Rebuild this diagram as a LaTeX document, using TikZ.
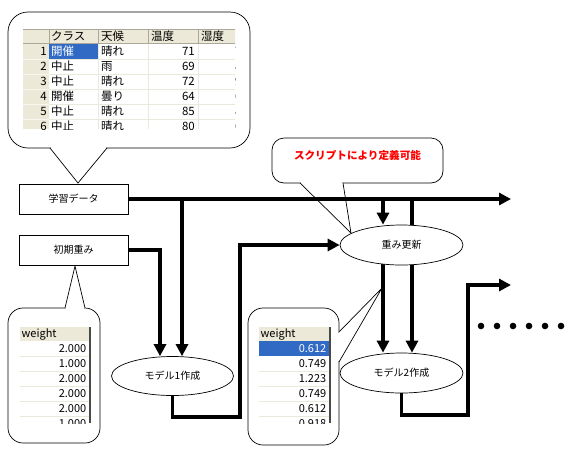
\documentclass[tikz,border=0pt]{standalone}
\usepackage{fontspec}
\setmainfont{Noto Sans CJK JP}
\usetikzlibrary{arrows.meta,shapes.geometric}
\pgfdeclarelayer{bg}
\pgfdeclarelayer{back}
\pgfsetlayers{back,bg,main}
\definecolor{hdr}{HTML}{ECE9D8}
\definecolor{hdrline}{HTML}{ACA899}
\definecolor{gridc}{HTML}{EBE9DC}
\definecolor{sel}{HTML}{316AC5}
\definecolor{dkb}{HTML}{4A4A4A}
\definecolor{notered}{HTML}{FF0000}
\begin{document}
\begin{tikzpicture}[x=1pt,y=-1pt,
  every node/.style={font=\fontsize{10}{12}\selectfont},
  flowbox/.style={draw, line width=0.9pt, fill=white, minimum width=109pt, minimum height=30pt, inner sep=0pt},
  oval/.style={draw, ellipse, line width=0.7pt, fill=white, minimum width=122pt, minimum height=39pt, inner sep=0pt},
  flow/.style={line width=3.6pt},
  tipped/.style={flow, -{Triangle[length=12pt,width=12pt]}},
  cbody/.style={draw, line width=0.7pt, fill=white},
  cline/.style={line width=0.7pt},
  cell/.style={font=\fontsize{11.5}{12}\selectfont, inner sep=0pt},
  wcell/.style={font=\fontsize{11}{12}\selectfont, inner sep=0pt}
]
\useasboundingbox (0,0) rectangle (578,456);
\begin{pgfonlayer}{back}
\fill[white] (0,0) rectangle (578,456);
\end{pgfonlayer}

% ---------- nodes ----------
\node[flowbox] (data) at (73.5,199) {学習データ};
\node[flowbox] (init) at (73.5,250) {初期重み};
\node[oval] (m1) at (172.5,376) {モデル1作成};
\node[oval, minimum width=123pt, minimum height=40pt] (upd) at (401.5,245) {重み更新};
\node[oval, minimum width=123pt, minimum height=40pt] (m2) at (401.5,373) {モデル2作成};
\node[font=\bfseries\fontsize{10.6}{12}\selectfont, text=notered] (note) at (357.5,155) {スクリプトにより定義可能};

\coordinate (endA) at (511,199);
\coordinate (j1) at (182,199);
\coordinate (j2) at (383,199);
\coordinate (j3) at (412,199);
\coordinate (c1) at (240,417);
\coordinate (c2) at (468,415);
\coordinate (endB) at (511,285);

% ---------- background: callouts and hidden line ----------
\begin{pgfonlayer}{bg}
% top callout
\draw[cbody, rounded corners=20pt] (8,12) rectangle (250,148);
\fill[white] (50,148) -- (78,183) -- (107,148) -- cycle;
\fill[white] (51,146.5) rectangle (106,149.5);
\draw[cline] (50,148) -- (78,183) -- (107,148);
% red note callout
\draw[cbody, rounded corners=12pt] (272,138) rectangle (443,183);
\fill[white] (300,183) -- (351,233) -- (343,183) -- cycle;
\fill[white] (301,181.5) rectangle (342,184.5);
\draw[cline] (300,183) -- (351,233) -- (343,183);
% left bottom callout
\draw[cbody, rounded corners=15pt] (8,308) rectangle (100,443);
\fill[white] (65,308) -- (75,266) -- (85,308) -- cycle;
\fill[white] (66,306.5) rectangle (84,309.5);
\draw[cline] (65,308) -- (75,266) -- (85,308);
% right bottom callout
\draw[cbody, rounded corners=15pt] (248,308) rectangle (339,445);
\fill[white] (339,332) -- (382,288) -- (339,362) -- cycle;
\fill[white] (337.5,333) rectangle (340.5,361);
\draw[cline] (339,332) -- (382,288) -- (339,362);
% lines passing behind the update ellipse
\draw[tipped] (j3) -- ([xshift=10.5pt]m2.north);
\draw[tipped] ([xshift=-18.5pt]upd.center) -- ([xshift=-18.5pt]m2.north);
\end{pgfonlayer}

% ---------- connectors ----------
\draw[tipped] (data.east) -- (endA);
\draw[tipped] (init.east) -| ([xshift=-12.5pt]m1.north);
\draw[tipped] (j1) -- ([xshift=9.5pt]m1.north);
\draw[tipped] (m1.south) |- (c1) |- (upd.west);
\draw[tipped] (j2) -- ([xshift=-18.5pt]upd.north);
\draw[tipped] (m2.south) |- (c2) |- (endB);

% dots
\foreach \k in {0,...,5} \fill (481+16*\k,326) circle (3.3pt);

% ---------- top table ----------
\begin{scope}
\clip (23,29) rectangle (235,129);
\fill[white] (23,29) rectangle (250,129);
\fill[hdr] (23,29) rectangle (250,44);
\fill[hdr] (23,44) rectangle (49,129);
\fill[sel] (49,44) rectangle (98,59);
\foreach \yy in {59,74,89,104,119} {
  \draw[gridc, line width=1pt] (49,\yy) -- (250,\yy);
  \draw[white!60!hdr, line width=0.8pt] (23,\yy) -- (49,\yy);
}
\foreach \xx in {98,148,198} \draw[gridc, line width=1pt] (\xx,44) -- (\xx,129);
\draw[hdrline, line width=0.8pt] (23,29.4) -- (250,29.4);
\draw[hdrline, line width=0.6pt] (23,43.7) -- (250,43.7);
\foreach \xx in {49,98,148,198} \draw[hdrline, line width=0.8pt] (\xx,29) -- (\xx,44);
\node[cell, anchor=west] (h1) at (51,36.5) {クラス};
\node[cell, anchor=west] (h2) at (101,36.5) {天候};
\node[cell, anchor=west] (h3) at (151,36.5) {温度};
\node[cell, anchor=west] (h4) at (201,36.5) {湿度};
\node[cell, anchor=east] (r1n) at (47,51.5) {1};
\node[cell, anchor=west, text=white] (r1c) at (51,51.5) {開催};
\node[cell, anchor=west] (r1w) at (101,51.5) {晴れ};
\node[cell, anchor=east] (r1t) at (195,51.5) {71};
\node[cell, anchor=east] (r1h) at (248,51.5) {70};
\foreach \n/\c/\w/\t/\h in {2/中止/雨/69/80, 3/中止/晴れ/72/95, 4/開催/曇り/64/65, 5/中止/晴れ/85/85, 6/中止/晴れ/80/60} {
  \pgfmathsetmacro\yy{36.5+15*\n}
  \node[cell, anchor=east] (r\n n) at (47,\yy) {\n};
  \node[cell, anchor=west] (r\n c) at (51,\yy) {\c};
  \node[cell, anchor=west] (r\n w) at (101,\yy) {\w};
  \node[cell, anchor=east] (r\n t) at (195,\yy) {\t};
  \node[cell, anchor=east] (r\n h) at (248,\yy) {\h};
}
\end{scope}

% ---------- left weight table ----------
\begin{scope}
\clip (20,327) rectangle (91,423);
\fill[white] (20,327) rectangle (91,423);
\fill[hdr] (20,327) rectangle (89,341);
\foreach \yy in {356,371,386,401,416} \draw[gridc, line width=1pt] (20,\yy) -- (89,\yy);
\fill[dkb] (88.7,327) rectangle (91,423);
\node[wcell, anchor=west] (lw) at (21.5,334) {weight};
\foreach \v [count=\i] in {2.000,1.000,2.000,2.000,2.000,1.000} {
  \pgfmathsetmacro\yy{341+15*\i-7.5}
  \node[wcell, anchor=east] (lv\i) at (86.5,\yy) {\v};
}
\end{scope}

% ---------- right weight table ----------
\begin{scope}
\clip (259,327) rectangle (331,423);
\fill[white] (259,327) rectangle (331,423);
\fill[hdr] (259,327) rectangle (329,341);
\fill[sel] (259,341) rectangle (329,356);
\foreach \yy in {371,386,401,416} \draw[gridc, line width=1pt] (259,\yy) -- (329,\yy);
\fill[dkb] (328.7,327) rectangle (331,423);
\node[wcell, anchor=west] (rw) at (260.5,334) {weight};
\node[wcell, anchor=east, text=white] (rv1) at (326.5,348.5) {0.612};
\foreach \v [count=\i from 2] in {0.749,1.223,0.749,0.612,0.918} {
  \pgfmathsetmacro\yy{341+15*\i-7.5}
  \node[wcell, anchor=east] (rv\i) at (326.5,\yy) {\v};
}
\end{scope}
\end{tikzpicture}
\end{document}
